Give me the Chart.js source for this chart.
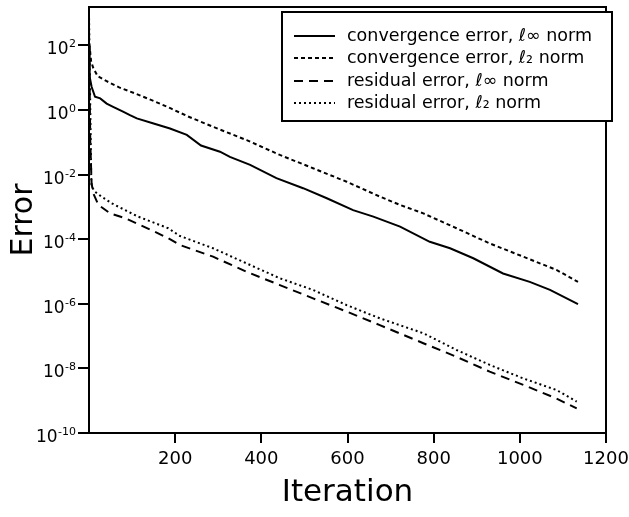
<!DOCTYPE html>
<html><head><meta charset="utf-8">
<script src="https://cdn.jsdelivr.net/npm/chart.js@4/dist/chart.umd.min.js"></script>
<style>html,body{margin:0;padding:0;background:#fff}canvas{display:block}</style>
</head><body>
<canvas id="c" width="629" height="517"></canvas>
<script>
// ---- data ----
const seriesLabels = [
  'convergence error, \u2113\u221E norm',
  'convergence error, \u2113\u2082 norm',
  'residual error, \u2113\u221E norm',
  'residual error, \u2113\u2082 norm'
];
const convInfIter = [0,1,2,6,14,26,41,56,79,95,111,148,188,227,260,304,327,374,435,497,552,613,660,722,791,838,892,961,1023,1070,1135];
const convInfErr  = [100,39.8,10.7,5.25,2.57,2.29,1.58,1.26,0.891,0.692,0.550,0.389,0.269,0.170,0.0794,0.0513,0.0355,0.0200,7.76e-3,3.80e-3,1.86e-3,7.94e-4,5.01e-4,2.45e-4,8.32e-5,5.25e-5,2.57e-5,8.71e-6,4.79e-6,2.69e-6,9.77e-7];

const convL2Iter = [0,2,5,10,20,40,70,110,150,190,230,288,366,443,520,598,675,722,776,853,930,1008,1085,1135];
const convL2Err  = [112,79.4,31.6,20.0,11.2,7.94,5.01,3.16,1.91,1.12,0.631,0.302,0.117,0.0407,0.0158,6.03e-3,2.09e-3,1.15e-3,6.31e-4,2.19e-4,7.41e-5,2.88e-5,1.12e-5,4.79e-6];

const resInfIter = [0,3,6,10,22,49,84,114,153,184,211,288,366,443,520,598,675,776,853,930,1008,1085,1132];
const resInfErr  = [316,0.1,5.37e-3,2.63e-3,1.15e-3,6.31e-4,4.47e-4,2.95e-4,1.70e-4,1.07e-4,6.61e-5,2.88e-5,9.77e-6,3.80e-6,1.48e-6,5.75e-7,2.19e-7,6.03e-8,2.29e-8,7.94e-9,3.09e-9,1.17e-9,5.75e-10];

const resL2Iter = [0,3,5,6,14,29,53,84,114,145,184,211,288,366,443,520,598,675,776,853,930,1008,1085,1132];
const resL2Err  = [1000,1.0,1.10e-2,4.27e-3,2.95e-3,2.09e-3,1.29e-3,7.94e-4,5.01e-4,3.47e-4,2.19e-4,1.26e-4,5.25e-5,1.78e-5,6.17e-6,2.69e-6,9.12e-7,3.55e-7,1.23e-7,3.72e-8,1.29e-8,4.90e-9,2.14e-9,9.33e-10];

const xTickValues = [200,400,600,800,1000,1200];
const xTickLabels = ['200','400','600','800','1000','1200'];
const yTickValues = [1e2,1e0,1e-2,1e-4,1e-6,1e-8,1e-10];
const yTickBase = '10';
const yTickExponents = ['2','0','-2','-4','-6','-8','-10'];
const xTitle = 'Iteration';
const yTitle = 'Error';

// ---- styles ----
const FONT = "'DejaVu Sans', sans-serif";
const dashes = [[], [4,3], [9,6], [2,3]];

function pts(xs, ys){ return xs.map((x,i)=>({x:x, y:ys[i]})); }
const seriesData = [pts(convInfIter,convInfErr), pts(convL2Iter,convL2Err), pts(resInfIter,resInfErr), pts(resL2Iter,resL2Err)];

const datasets = seriesData.map((d,i)=>({
  label: seriesLabels[i], data: d,
  borderColor:'#000', backgroundColor:'#000', borderWidth:2,
  borderDash: dashes[i], pointRadius:0, tension:0, fill:false
}));

const framePlugin = {
  id:'frame',
  afterDraw(chart){
    const {ctx, chartArea:a} = chart;
    ctx.save();
    ctx.strokeStyle='#000'; ctx.lineWidth=2;
    ctx.strokeRect(a.left, a.top, a.right-a.left, a.bottom-a.top);
    // y tick labels: 10 with superscript exponent
    const ys = chart.scales.y;
    ctx.fillStyle='#000'; ctx.textAlign='right'; ctx.textBaseline='alphabetic';
    yTickValues.forEach((v,i)=>{
      const py = ys.getPixelForValue(v);
      const xr = a.left - 13;
      ctx.font = "11px " + FONT;
      const ew = ctx.measureText(yTickExponents[i]).width;
      ctx.fillText(yTickExponents[i], xr, py + 2);
      ctx.font = "17px " + FONT;
      ctx.fillText(yTickBase, xr - ew - 0.5, py + 9);
    });
    // legend
    ctx.textAlign='left';
    const bx=282, by=12, bw=330, bh=109;
    ctx.fillStyle='#fff'; ctx.fillRect(bx,by,bw,bh);
    ctx.strokeRect(bx,by,bw,bh);
    ctx.font = "17.5px " + FONT;
    ctx.textBaseline='middle'; ctx.fillStyle='#000';
    const rows=[36,58,81,103];
    chart.data.datasets.forEach((ds,i)=>{
      const y=rows[i];
      ctx.beginPath(); ctx.setLineDash(ds.borderDash); ctx.lineWidth=2;
      ctx.moveTo(294,y); ctx.lineTo(335,y); ctx.stroke();
      ctx.setLineDash([]);
      ctx.fillText(ds.label, 347, y);
    });
    ctx.restore();
  }
};

new Chart(document.getElementById('c'), {
  type:'line',
  data:{datasets},
  plugins:[framePlugin],
  options:{
    responsive:false, animation:false, devicePixelRatio:1,
    layout:{padding:{left:0, top:7, right:23, bottom:0}},
    plugins:{legend:{display:false}, tooltip:{enabled:false}},
    scales:{
      x:{
        type:'linear', min:0, max:1200,
        afterBuildTicks(s){ s.ticks = xTickValues.map(v=>({value:v})); },
        afterFit(s){ s.height = 84; s.paddingLeft = 0; s.paddingRight = 0; },
        ticks:{color:'#000', font:{family:FONT, size:18}, padding:6, maxRotation:0,
          callback:(v)=>{ const k=xTickValues.indexOf(v); return k>=0?xTickLabels[k]:''; }},
        grid:{drawOnChartArea:false, drawTicks:true, tickLength:10, color:'#000', lineWidth:2},
        border:{display:true, color:'#000', width:2},
        title:{display:true, text:xTitle, color:'#000', font:{family:FONT, size:31}, padding:{top:0,bottom:5}}
      },
      y:{
        type:'logarithmic', min:1e-10, max:1550,
        afterBuildTicks(s){ s.ticks = yTickValues.map(v=>({value:v})); },
        afterFit(s){ s.width = 89; s.paddingTop = 0; s.paddingBottom = 0; },
        ticks:{color:'#000', font:{family:FONT, size:17}, padding:2, callback:()=>''},
        grid:{drawOnChartArea:false, drawTicks:true, tickLength:11, color:'#000', lineWidth:2},
        border:{display:true, color:'#000', width:2},
        title:{display:true, text:yTitle, color:'#000', font:{family:FONT, size:30}, padding:{top:6,bottom:0}}
      }
    }
  }
});
</script>
</body></html>
